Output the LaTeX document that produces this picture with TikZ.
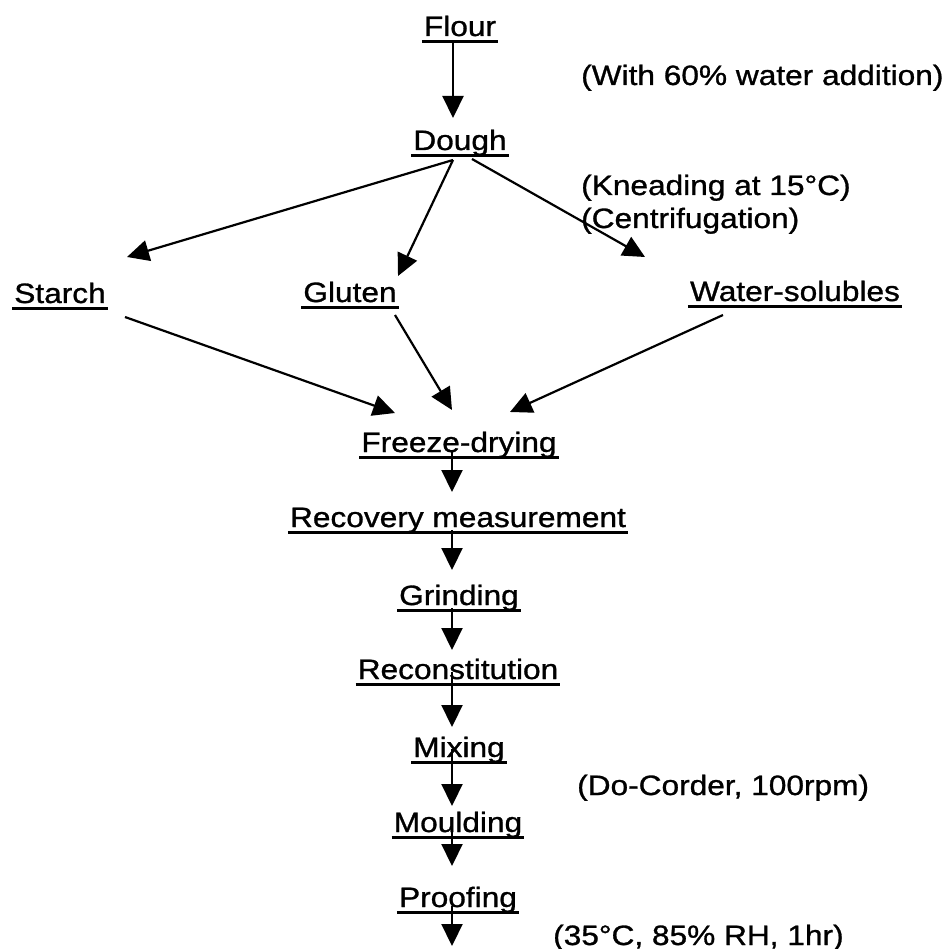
\documentclass[tikz,border=0pt]{standalone}
\usepackage{fontspec}
\setmainfont{Liberation Sans}[FakeStretch=1.13,FakeBold=1.0]
\usetikzlibrary{arrows.meta,calc}
\begin{document}
\begin{tikzpicture}[x=1pt,y=-1pt,
  lbl/.style={anchor=base,inner xsep=2pt,inner ysep=0pt,font=\fontsize{28}{32}\selectfont},
  note/.style={anchor=base west,inner sep=0pt,font=\fontsize{28}{32}\selectfont},
  uline/.style={line width=2.4pt},
  arr/.style={line width=2.2pt,-{Triangle[length=22pt,width=21pt]}}]
\useasboundingbox (0,0) rectangle (950,949);
% process nodes
\node[lbl] (flour) at (460,36) {Flour};
\node[lbl] (dough) at (460,150) {Dough};
\node[lbl] (starch) at (60,303) {Starch};
\node[lbl] (gluten) at (350,302) {Gluten};
\node[lbl] (water) at (795,301) {Water-solubles};
\node[lbl] (freeze) at (459,452) {Freeze-drying};
\node[lbl] (recovery) at (458,527) {Recovery measurement};
\node[lbl] (grinding) at (459,605) {Grinding};
\node[lbl] (recon) at (458,679) {Reconstitution};
\node[lbl] (mixing) at (459,757) {Mixing};
\node[lbl] (moulding) at (458,832) {Moulding};
\node[lbl] (proofing) at (458,907) {Proofing};
\coordinate (end) at (452,946);
% condition notes
\node[note] (n1) at (581,85) {(With 60\% water addition)};
\node[note] (n2) at (581,195) {(Kneading at 15°C)};
\node[note] (n3) at (581,228) {(Centrifugation)};
\node[note] (n4) at (577,795) {(Do-Corder, 100rpm)};
\node[note] (n5) at (553,945) {(35°C, 85\% RH, 1hr)};
% underlines
\foreach \n in {flour,dough,starch,gluten,water,freeze,recovery,grinding,recon,mixing,moulding,proofing}
  \draw[uline] ([yshift=-5.5pt]\n.base west) -- ([yshift=-5.5pt]\n.base east);
% connectors
\draw[arr] ($(flour.base)+(-7,6)$) -- ($(dough.base)+(-7,-32)$);
\draw[arr] ($(dough.base)+(-7,10)$) -- ($(starch.base)+(67,-46)$);
\draw[arr] ($(dough.base)+(-7,10)$) -- ($(gluten.base)+(48,-26)$);
\draw[arr] ($(dough.base)+(12,9)$) -- ($(water.base)+(-150,-44)$);
\draw[arr] ($(starch.base)+(65,14)$) -- ($(freeze.base)+(-64,-39)$);
\draw[arr] ($(gluten.base)+(45,13)$) -- ($(freeze.base)+(-7,-42)$);
\draw[arr] ($(water.base)+(-72,14)$) -- ($(freeze.base)+(51,-40)$);
\draw[arr] ($(freeze.base)+(-7,-2)$) -- ($(recovery.base)+(-6,-35)$);
\draw[arr] ($(recovery.base)+(-6,3)$) -- ($(grinding.base)+(-7,-35)$);
\draw[arr] ($(grinding.base)+(-7,3)$) -- ($(recon.base)+(-6,-29)$);
\draw[arr] ($(recon.base)+(-6,-7)$) -- ($(mixing.base)+(-7,-30)$);
\draw[arr] ($(mixing.base)+(-7,-8)$) -- ($(moulding.base)+(-6,-26)$);
\draw[arr] ($(moulding.base)+(-6,-6)$) -- ($(proofing.base)+(-6,-41)$);
\draw[arr] ($(proofing.base)+(-6,-1)$) -- (end);
\end{tikzpicture}
\end{document}
